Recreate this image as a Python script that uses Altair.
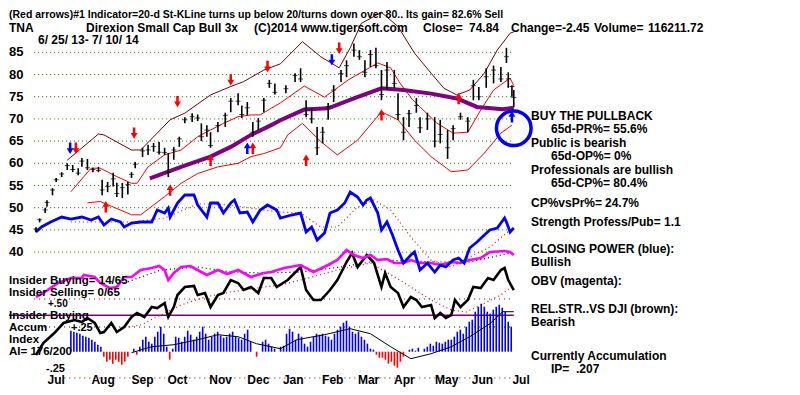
import altair as alt
import pandas as pd

# x unit: trading day (0 = 6/25/13 ... 260 = 7/10/14); y unit: price (dollars)
# ---------------- daily price bars (day, high, low, close) ----------------
price_bars = [
    (0, 45.6, 44.5, 45.2), (2, 47.6, 46.7, 47.3), (5, 50.0, 48.8, 49.5), (6, 51.7, 50.2, 51.2),
    (9, 54.4, 52.8, 54.0), (11, 56.7, 55.8, 56.3), (14, 58.0, 56.9, 57.6), (17, 60.0, 58.5, 59.5),
    (20, 59.6, 58.0, 58.6), (23, 58.9, 57.3, 57.8), (25, 61.2, 59.2, 60.5), (28, 61.0, 58.5, 59.0),
    (31, 59.0, 58.0, 58.6), (34, 59.2, 58.0, 58.4), (36, 56.3, 52.8, 54.0), (39, 55.8, 53.5, 54.8),
    (42, 57.9, 54.8, 56.5), (44, 55.6, 52.4, 53.2), (47, 55.6, 52.2, 54.5), (50, 55.8, 53.0, 55.2),
    (52, 58.0, 56.7, 57.5), (54, 60.3, 58.9, 59.8), (58, 63.5, 61.4, 62.8), (61, 64.2, 61.9, 63.0),
    (64, 64.6, 62.6, 63.8), (67, 64.8, 62.0, 62.5), (70, 63.5, 61.9, 62.4), (72, 62.3, 56.9, 58.0),
    (75, 63.7, 60.8, 63.0), (78, 66.0, 63.7, 65.5), (81, 70.4, 69.0, 69.8), (85, 71.3, 69.3, 70.5),
    (88, 71.0, 69.5, 70.2), (90, 69.0, 65.0, 66.0), (93, 68.6, 66.0, 67.5), (95, 67.0, 63.5, 64.0),
    (99, 69.3, 67.0, 68.5), (103, 71.4, 68.2, 70.8), (106, 74.7, 71.5, 74.0), (110, 75.8, 73.1, 74.0),
    (112, 73.0, 70.2, 71.0), (115, 73.8, 70.8, 72.5), (118, 69.3, 66.0, 67.0), (121, 70.2, 67.5, 69.5),
    (124, 74.7, 71.5, 74.2), (127, 78.8, 77.0, 78.0), (130, 78.0, 75.5, 76.0), (136, 77.6, 75.8, 76.8),
    (141, 80.3, 78.3, 79.8), (144, 81.4, 78.3, 79.0), (147, 74.2, 70.4, 71.0), (150, 72.4, 69.0, 70.0),
    (153, 68.2, 61.9, 63.5), (156, 68.2, 64.5, 67.0), (159, 73.6, 69.8, 72.8), (162, 77.6, 73.8, 76.5),
    (166, 81.0, 78.3, 80.2), (169, 83.2, 79.4, 82.0), (173, 87.0, 84.0, 85.5), (176, 85.5, 83.3, 84.0),
    (179, 83.2, 79.4, 80.5), (182, 85.5, 81.7, 84.5), (185, 86.0, 81.4, 82.0), (188, 81.0, 74.2, 75.5),
    (191, 82.8, 76.5, 81.0), (195, 81.0, 77.0, 78.0), (197, 75.8, 69.8, 71.0), (200, 70.4, 65.2, 67.0),
    (203, 72.0, 68.2, 71.2), (207, 74.7, 71.4, 73.0), (209, 70.4, 66.8, 68.0), (213, 71.4, 67.5, 70.0),
    (217, 70.4, 63.6, 65.0), (220, 69.8, 64.5, 66.5), (224, 67.5, 61.0, 63.5), (227, 68.6, 65.2, 67.8),
    (231, 71.4, 69.8, 70.5), (235, 70.4, 67.0, 69.5), (238, 78.8, 74.2, 77.5), (241, 77.2, 74.2, 75.0),
    (245, 81.4, 77.0, 79.5), (249, 82.0, 78.0, 81.0), (253, 81.7, 78.3, 79.0), (256, 86.0, 82.6, 84.0),
    (257, 80.5, 77.0, 79.0), (259, 77.6, 75.0, 77.3), (260, 76.5, 72.6, 74.84),
]

# ---------------- moving averages / bands (day, price) ----------------
ma21 = [(19, 53.6), (30, 58.9), (35, 58.9), (44, 57.0), (52, 55.5), (55, 55.5), (61, 59.2), (70, 61.9),
        (79, 63.0), (88, 66.0), (95, 67.5), (102, 69.0), (110, 70.5), (117, 70.9), (122, 70.9), (128, 72.4),
        (133, 73.6), (146, 77.4), (157, 74.9), (170, 78.8), (186, 82.6), (193, 81.5), (198, 78.1),
        (205, 74.3), (218, 69.1), (227, 66.8), (235, 67.0), (242, 72.0), (249, 76.5), (258, 79.2), (260, 77.5)]
band_upper = [(17, 60.7), (34, 66.6), (37, 66.4), (52, 63.0), (57, 63.0), (73, 69.8), (81, 71.3), (95, 75.4),
              (106, 77.3), (113, 78.4), (124, 81.0), (133, 82.4), (145, 87.4), (155, 84.0), (165, 81.5),
              (171, 86.0), (177, 91.5), (188, 94.0), (197, 90.8), (206, 84.8), (215, 80.3), (222, 76.9),
              (229, 75.4), (236, 76.5), (244, 80.3), (251, 85.5), (258, 89.3), (260, 89.6)]
band_lower = [(28, 51.1), (35, 51.4), (52, 48.4), (57, 48.4), (70, 52.5), (79, 55.5), (88, 57.7), (99, 59.2),
              (110, 60.0), (117, 61.5), (124, 62.2), (133, 63.5), (137, 66.4), (145, 69.0), (155, 64.9),
              (164, 61.9), (175, 65.2), (188, 71.6), (197, 69.8), (206, 65.2), (215, 61.5), (226, 58.1),
              (235, 58.5), (244, 62.3), (253, 66.8), (259, 68.6)]
ma65 = [(62, 56.6), (79, 59.2), (95, 61.5), (106, 63.7), (117, 66.4), (128, 68.6), (133, 69.7), (146, 72.1),
        (159, 72.4), (173, 74.6), (188, 76.9), (200, 76.5), (215, 75.7), (229, 74.6), (240, 72.7),
        (254, 72.2), (260, 72.5)]

# ---------------- lower indicators (day, indicator level) ----------------
closing_power = [(0, 168), (3, 173), (8, 178), (14, 183), (19, 181), (25, 183), (30, 180), (34, 183), (37, 175),
                 (41, 181), (46, 178), (48, 173), (52, 177), (57, 178), (63, 178), (66, 190), (70, 187), (72, 192),
                 (73, 183), (77, 197), (81, 205), (86, 205), (88, 195), (93, 183), (95, 197), (99, 197), (102, 187),
                 (106, 197), (108, 200), (111, 187), (115, 188), (118, 178), (122, 190), (126, 195), (131, 190),
                 (133, 182), (139, 185), (144, 187), (147, 168), (150, 173), (153, 160), (157, 167), (160, 187),
                 (164, 190), (168, 197), (171, 208), (175, 203), (178, 195), (180, 200), (182, 202), (186, 187),
                 (188, 170), (191, 178), (194, 165), (197, 150), (200, 137), (204, 145), (206, 148), (209, 130),
                 (213, 137), (217, 128), (220, 135), (223, 133), (227, 140), (230, 142), (233, 137), (236, 152),
                 (240, 158), (244, 165), (247, 170), (251, 172), (255, 182), (256, 178), (258, 168), (260, 172)]
closing_power_ma = [(19, 178), (52, 178), (70, 182), (88, 196), (99, 196), (113, 193), (124, 190), (133, 188),
                    (144, 187), (155, 173), (164, 173), (175, 193), (184, 200), (193, 190), (204, 163), (215, 140),
                    (226, 133), (236, 143), (247, 153), (258, 170)]
obv = [(0, 103), (4, 107), (12, 117), (19, 122), (25, 122), (26, 125), (32, 123), (35, 117), (40, 112), (44, 113),
       (48, 123), (52, 123), (57, 130), (63, 132), (67, 134), (70, 130), (72, 120), (75, 127), (79, 133), (84, 134),
       (88, 130), (93, 125), (99, 130), (104, 126), (110, 130), (117, 123), (124, 127), (128, 128), (135, 132),
       (144, 135), (151, 128), (159, 135), (164, 140), (169, 150), (173, 145), (178, 142), (182, 145), (186, 140),
       (191, 141), (195, 137), (200, 137), (204, 140), (209, 137), (215, 137), (220, 135), (226, 138), (231, 137),
       (236, 140), (242, 142), (247, 148), (255, 149), (258, 148), (260, 145)]
obv_ma = [(48, 117), (68, 130), (88, 133), (106, 128), (124, 127), (144, 128), (166, 133), (188, 140),
          (218, 138), (236, 138), (258, 147)]
rel_strength = [(0, 45), (4, 57), (10, 67), (15, 77), (21, 80), (25, 78), (28, 82), (32, 77), (35, 67), (37, 68),
                (41, 77), (44, 68), (48, 73), (52, 83), (55, 87), (59, 83), (63, 93), (66, 92), (70, 97), (72, 83),
                (75, 93), (77, 105), (81, 113), (86, 114), (88, 105), (92, 107), (95, 93), (99, 105), (102, 107),
                (106, 120), (110, 117), (113, 110), (117, 113), (121, 107), (124, 122), (128, 122), (131, 113),
                (137, 120), (144, 133), (147, 110), (151, 100), (155, 100), (160, 110), (164, 120), (169, 138),
                (172, 147), (175, 133), (180, 145), (184, 137), (188, 113), (190, 127), (193, 113), (197, 107),
                (200, 93), (204, 103), (207, 100), (210, 93), (215, 95), (217, 82), (220, 87), (223, 82), (226, 85),
                (228, 100), (231, 93), (235, 100), (238, 113), (242, 112), (246, 122), (249, 120), (253, 130),
                (255, 132), (257, 120), (260, 110)]
rel_strength_ma = [(46, 72), (57, 75), (70, 87), (79, 95), (92, 103), (106, 108), (124, 113), (133, 115),
                   (144, 120), (164, 130), (182, 137), (198, 120), (215, 100), (226, 90), (234, 88), (242, 95),
                   (253, 105), (260, 115)]

# accumulation index, one value every 1.63 trading days from day 19
ai_first_day, ai_step = 19.0, 1.63
ai_values = [21, 20, 19, 18, 16, 15, 14, 12, 10, 7, 5, -5, -10, -8, -12, -8, -10, -13, -10, -5,
             0, 3, -3, 5, 12, 15, 10, 8, 15, 20, 25, 18, 5, -8, 3, 15, 14, 10, 15, 21,
             17, 12, 15, 20, 25, 18, 12, 15, 18, 20, 16, 14, 15, 18, 20, 15, 14, 12, 18, 22,
             10, 0, -5, 0, 10, 12, 8, 5, 3, 0, 5, 6, 18, 23, 20, 12, 18, 15, 8, 5,
             10, 15, 18, 17, 18, 16, 15, 12, 18, 22, 25, 29, 31, 25, 20, 18, 20, 15, 12, 8,
             3, 2, -3, -6, -6, -8, -12, -10, -14, -16, -10, -5, 0, 2, 3, 1, 4, 0, 3, 5,
             8, 6, 10, 9, 8, 10, 12, 12, 15, 20, 22, 18, 25, 30, 32, 40, 45, 48, 45, 40,
             38, 42, 45, 47, 44, 40, 30, 25]
ai_ma = [(52, -1), (63, 5), (75, 7), (88, 12), (99, 17), (110, 15), (120, 8), (133, 3), (142, 12), (157, 17),
         (171, 23), (182, 18), (193, 5), (204, -7), (215, -2), (226, 5), (236, 15), (247, 28), (254, 40), (260, 40)]

# signal arrows (day, price, direction, colour)
arrows = [(21.7, 63.4, "down", "#ff0000"), (53.4, 66.8, "down", "#ff0000"), (77, 73.9, "down", "#ff0000"),
          (106, 78.8, "down", "#ff0000"), (126, 81.8, "down", "#ff0000"), (165, 85.9, "down", "#ff0000"),
          (18.6, 63.4, "down", "#0000ff"), (161, 83.3, "down", "#0000ff"),
          (38, 50.2, "up", "#ff0000"), (73, 54.0, "up", "#ff0000"), (95, 60.7, "up", "#ff0000"),
          (118, 63.4, "up", "#ff0000"), (147, 60.7, "up", "#ff0000"), (188, 70.9, "up", "#ff0000"),
          (230, 74.6, "up", "#ff0000"), (115, 63.4, "up", "#0000ff"), (259, 70.5, "up", "#0000ff")]

price_grid = [85, 80, 75, 70, 65, 60, 55, 50, 45, 40]
month_labels = ["Jul", "Aug", "Sep", "Oct", "Nov", "Dec", "Jan", "Feb", "Mar", "Apr", "May", "Jun", "Jul"]
month_days = [11, 36.5, 58, 77, 100.5, 121, 140, 161.5, 181, 200.5, 223.5, 243, 264]

# ---------------- layout helpers ----------------
def lvl(v):  # indicator level -> shared vertical units of the single panel
    return 85 - (347.7 - v) / 4.44

XS = alt.Scale(domain=[-14.67, 411.4], nice=False, zero=False)
YS = alt.Scale(domain=[9.62, 94.98], nice=False, zero=False)
X = alt.X("t:Q", scale=XS, axis=None)
Y = alt.Y("p:Q", scale=YS, axis=None)
FONT = "Liberation Sans"

def line(pts, color, width=1.0, dash=None, level=False):
    df = pd.DataFrame({"t": [a for a, b in pts], "p": [lvl(b) if level else b for a, b in pts]})
    kw = dict(color=color, strokeWidth=width, interpolate="linear")
    if dash:
        kw["strokeDash"] = dash
    return alt.Chart(df).mark_line(**kw).encode(x=X, y=Y)

def hline(p, color, dash=None, width=1.0, t0=-1.0, t1=260.0):
    df = pd.DataFrame({"t": [t0], "t2": [t1], "p": [p]})
    kw = dict(color=color, strokeWidth=width)
    if dash:
        kw["strokeDash"] = dash
    return alt.Chart(df).mark_rule(**kw).encode(x=X, x2="t2:Q", y=Y)

def txt(s, x, y, size=12, color="black", align="left"):
    # x, y: page position; kept inside the drawing area
    return alt.Chart(pd.DataFrame({"s": [s]})).mark_text(
        align=align, baseline="middle", font=FONT, fontSize=size, fontWeight="bold", color=color
    ).encode(x=alt.value(max(x - 8, 0)), y=alt.value(y - 8), text="s:N")

layers = []
# gridlines and reference levels
for g in price_grid:
    layers.append(hline(g, "#008000", dash=[1, 3]))
layers.append(hline(lvl(101), "#800000", dash=[1, 4]))
layers.append(hline(lvl(84.7), "#800080", width=1.5, t0=-14.67))
layers.append(hline(lvl(73), "#000000", dash=[1, 4]))
layers.append(hline(lvl(22), "#800000", dash=[1, 4], t0=10))

# accumulation index histogram
ai_df = pd.DataFrame({
    "t": [ai_first_day + i * ai_step for i in range(len(ai_values))],
    "p": [lvl(48.3 + a) for a in ai_values],
    "p2": [lvl(48.3)] * len(ai_values),
    "sgn": ["pos" if a >= 0 else "neg" for a in ai_values],
})
layers.append(alt.Chart(ai_df).mark_rule(strokeWidth=1.6).encode(
    x=X, y=Y, y2="p2:Q",
    color=alt.Color("sgn:N", scale=alt.Scale(domain=["pos", "neg"], range=["#0000ff", "#ff0000"]), legend=None)))
layers.append(line([(a, 48.3 + b) for a, b in ai_ma], "#000000", 1.0, level=True))

# lower indicator lines
layers.append(line(rel_strength_ma, "#ff0000", 1.2, dash=[1, 3], level=True))
layers.append(line(rel_strength, "#000000", 2.6, level=True))
layers.append(line(obv_ma, "#000000", 1.2, dash=[1, 3], level=True))
layers.append(line(obv, "#ff00ff", 2.6, level=True))
layers.append(line(closing_power_ma, "#ff0000", 1.2, dash=[1, 3], level=True))
layers.append(line(closing_power, "#0000ff", 2.8, level=True))

# bands and averages
layers.append(line(band_upper, "#800000", 1.0))
layers.append(line(band_lower, "#ff0000", 1.0))
layers.append(line(ma21, "#ff0000", 1.0))
layers.append(line(ma65, "#800080", 4.0))

# price bars
pb = pd.DataFrame(price_bars, columns=["t", "p", "p2", "c"])
layers.append(alt.Chart(pb).mark_rule(color="black", strokeWidth=1.6).encode(x=X, y=Y, y2="p2:Q"))
layers.append(alt.Chart(pb).mark_tick(color="black", thickness=1, size=5, orient="horizontal").encode(
    x=X, y=alt.Y("c:Q", scale=YS, axis=None)))

# arrows
down_path = "M-0.22,-1L0.22,-1L0.22,0L0.6,0L0,1L-0.6,0L-0.22,0Z"
up_path = "M-0.22,1L0.22,1L0.22,0L0.6,0L0,-1L-0.6,0L-0.22,0Z"
for d, shape in (("down", down_path), ("up", up_path)):
    for col in ("#ff0000", "#0000ff"):
        sub = [(a, b) for a, b, dd, cc in arrows if dd == d and cc == col]
        if sub:
            adf = pd.DataFrame({"t": [a for a, b in sub], "p": [b for a, b in sub]})
            layers.append(alt.Chart(adf).mark_point(shape=shape, filled=True, color=col, size=130,
                                                    opacity=1).encode(x=X, y=Y))

# highlight circle around the last buy signal
layers.append(alt.Chart(pd.DataFrame({"t": [260], "p": [67.9]})).mark_point(
    shape="circle", filled=False, color="#0000ff", strokeWidth=3.5, size=1200, opacity=1).encode(x=X, y=Y))

# price scale labels
pl = pd.DataFrame({"p": price_grid, "s": [str(g) for g in price_grid]})
layers.append(alt.Chart(pl).mark_text(align="left", baseline="middle", font=FONT, fontSize=13,
                                      fontWeight="bold").encode(x=alt.value(0), y=Y, text="s:N"))
# month labels
ml = pd.DataFrame({"t": month_days, "s": month_labels})
layers.append(alt.Chart(ml).mark_text(align="center", baseline="middle", font=FONT, fontSize=12,
                                      fontWeight="bold").encode(x=X, y=alt.value(372), text="s:N"))

# header text
layers += [
    txt("(Red arrows)#1 Indicator=20-d St-KLine turns up below 20/turns down over 80.. Its gain= 82.6% Sell",
        3, 15, size=10.5),
    txt("TNA", 3, 27.5),
    txt("Direxion Small Cap Bull 3x", 85, 27.5),
    txt("(C)2014 www.tigersoft.com", 253, 27.5),
    txt("Close=", 422, 27.5), txt("74.84", 468, 27.5), txt("Change=-2.45", 510, 27.5),
    txt("Volume=", 593, 27.5), txt("116211.72", 647, 27.5),
    txt("6/ 25/ 13- 7/ 10/ 14", 37, 39.5),
]
# right-hand commentary
layers += [
    txt("BUY THE PULLBACK", 530, 116), txt("65d-PR%= 55.6%", 550, 128.5),
    txt("Public is bearish", 530, 143), txt("65d-OP%= 0%", 550, 156),
    txt("Professionals are bullish", 530, 170), txt("65d-CP%= 80.4%", 550, 183),
    txt("CP%vsPr%=", 530, 203), txt("24.7%", 604, 203),
    txt("Strength Profess/Pub= 1.1", 530, 222),
    txt("CLOSING POWER (blue):", 530, 249), txt("Bullish", 530, 262),
    txt("OBV (magenta):", 530, 281),
    txt("REL.STR..VS DJI (brown):", 530, 309), txt("Bearish", 530, 322),
    txt("Currently Accumulation", 530, 356), txt("IP=", 550, 369), txt(".207", 575, 369),
]
# left lower labels
layers += [
    txt("Insider Buying= 14/65", 2, 281, size=11.5), txt("Insider Selling= 0/65", 2, 293, size=11.5),
    txt("+.50", 47, 304, size=10), txt("Insider Buying", 2, 316, size=11.5),
    txt("Accum", 2, 328, size=11.5), txt("+.25", 70, 328, size=11), txt("Index", 2, 340, size=11.5),
    txt("AI= 176/200", 2, 352, size=11.5), txt("-.25", 45, 369, size=11),
]

chart = alt.layer(*layers).properties(
    width=784, height=379, padding=0,
    autosize=alt.AutoSizeParams(type="fit", contains="padding"),
    background="white",
).configure_view(stroke=None)

chart.save("out.html", embed_options={"renderer": "svg", "actions": False})
